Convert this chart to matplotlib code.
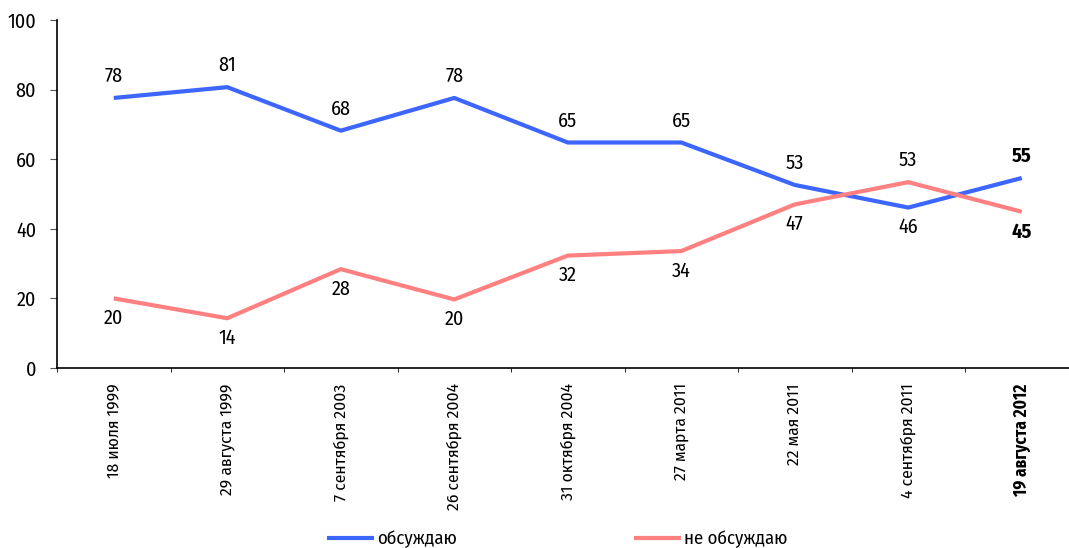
import matplotlib
matplotlib.use("Agg")
import matplotlib.pyplot as plt
from matplotlib.ticker import FixedLocator
import numpy as np

categories = ["18 июля 1999", "29 августа 1999", "7 сентября 2003", "26 сентября 2004",
              "31 октября 2004", "27 марта 2011", "22 мая 2011", "4 сентября 2011",
              "19 августа 2012"]
discuss = [77.6, 80.7, 68.2, 77.6, 64.8, 64.8, 52.6, 46.1, 54.6]
not_discuss = [20.0, 14.3, 28.4, 19.7, 32.3, 33.6, 47.0, 53.4, 44.9]
series_names = ["обсуждаю", "не обсуждаю"]
yticks = [0, 20, 40, 60, 80, 100]

plt.rcParams['font.family'] = ['Fira Sans Condensed', 'Roboto', 'DejaVu Sans']

W, H = 1069, 548
fig = plt.figure(figsize=(W / 100, H / 100), dpi=100)
left, right, top, bottom = 57, 1078.5, 20, 368
ax = fig.add_axes([left / W, 1 - bottom / H, (right - left) / W, (bottom - top) / H])

x = np.arange(len(categories))
blue = "#3d66ff"
red = "#ff8080"
ax.plot(x, discuss, color=blue, lw=3, solid_capstyle='butt', zorder=3, label=series_names[0])
ax.plot(x, not_discuss, color=red, lw=3, solid_capstyle='butt', zorder=3, label=series_names[1])

last = len(categories) - 1
for i, (a, b) in enumerate(zip(discuss, not_discuss)):
    w = 'bold' if i == last else 'normal'
    for v, other in ((a, b), (b, a)):
        off = 15.5 if v >= other else -14.5
        ax.annotate(f"{v:.0f}", (i, v), xytext=(0, off), textcoords='offset points',
                    ha='center', va='center', fontsize=14.5, fontweight=w, color='black')

ax.set_xlim(-0.5, len(categories) - 0.5)
ax.set_ylim(0, 100)
ax.set_yticks(yticks)
ax.set_yticklabels([str(t) for t in yticks], fontsize=14.5)
ax.set_xticks(x)
ax.set_xticklabels(categories, rotation=90, fontsize=12.5, va='top', ha='center')
for lab in ax.get_xticklabels()[-1:]:
    lab.set_fontweight('bold')
ax.xaxis.set_minor_locator(FixedLocator(np.arange(len(categories)) - 0.5))
ax.tick_params(axis='x', which='major', length=0, pad=11)
ax.tick_params(axis='x', which='minor', length=3, direction='out', color='black')
ax.tick_params(axis='y', length=5, direction='out', color='#555555', pad=10)
for s in ['top', 'right']:
    ax.spines[s].set_visible(False)
ax.spines['left'].set_linewidth(1.2)
ax.spines['bottom'].set_linewidth(1.2)

fig.legend(loc='center left', bbox_to_anchor=(327 / W, 1 - 539 / H), ncol=2, frameon=False,
           fontsize=13.5, handlelength=2.5, handletextpad=0.2, columnspacing=9.4,
           borderpad=0, borderaxespad=0)

fig.savefig("out.png", dpi=100)
